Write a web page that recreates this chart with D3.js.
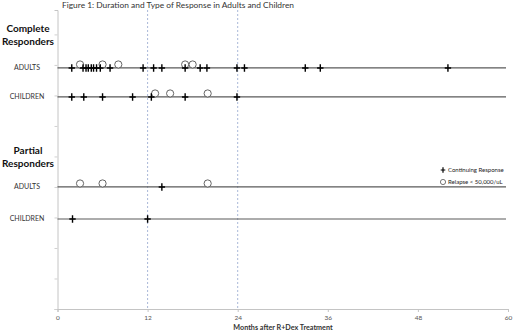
<!DOCTYPE html>
<html>
<head>
<meta charset="utf-8">
<script src="https://cdn.jsdelivr.net/npm/d3@7"></script>
<style>
  body { margin: 0; background: #fff; }
  text { font-family: Lato, 'Open Sans', sans-serif; }
</style>
</head>
<body>
<div id="chart"></div>
<script>
// data (months after treatment)
var monthTicks = [0, 12, 24, 36, 48, 60];
var guideMonths = [12, 24];
var groups = ['Complete', 'Partial'];
var groupLevel = [8.95, 4.95];
var rowNames = ['ADULTS', 'CHILDREN', 'ADULTS', 'CHILDREN'];
var rowLevel = [7.9, 6.95, 4.0, 2.95];
var continuing = [
    [1.9, 3.4, 3.8, 4.1, 4.5, 4.8, 5.2, 5.7, 7.0, 11.4, 12.8, 13.9, 17.0, 19.0, 19.9, 23.9, 24.9, 33.0, 35.0, 52.0],
    [1.9, 3.5, 6.0, 10.0, 12.5, 17.0, 23.9],
    [13.9],
    [2.0, 12.0]
];
var relapse = [
    [3.0, 6.0, 8.1, 17.0, 18.0],
    [13.0, 15.0, 20.0],
    [3.0, 6.0, 20.0],
    []
];
var legendItems = ['Continuing Response', 'Relapse < 50,000/uL'];

var W = 520, H = 332;
var margin = { top: 10, left: 57.5, bottom: 23, right: 12 };

var svg = d3.select('#chart').append('svg')
    .attr('width', W)
    .attr('height', H);

var x = d3.scaleLinear().domain([0, 60]).range([margin.left, W - margin.right]);
var y = d3.scaleLinear().domain([0, 9.8]).range([H - margin.bottom, margin.top]);

// title
svg.append('text')
    .attr('x', 62).attr('y', 8)
    .attr('font-size', 8.4)
    .attr('fill', '#333')
    .text('Figure 1: Duration and Type of Response in Adults and Children');

// dotted guides at 12 and 24 months
svg.selectAll('.guide')
    .data(guideMonths)
    .enter().append('line')
    .attr('class', 'guide')
    .attr('x1', d => x(d)).attr('x2', d => x(d))
    .attr('y1', y(9.8)).attr('y2', y(0))
    .attr('stroke', '#a9b8d8')
    .attr('stroke-dasharray', '2,2');

// left axis
var yAxis = d3.axisLeft(y).tickValues(d3.range(0, 10)).tickSize(3).tickFormat('');
var gy = svg.append('g')
    .attr('transform', 'translate(' + x(0) + ',0)')
    .call(yAxis);
gy.select('.domain').attr('stroke', '#c4c4c4');
gy.selectAll('.tick line').attr('stroke', '#d0d0d0');

// bottom axis
var xAxis = d3.axisBottom(x).tickValues(monthTicks).tickSize(3).tickPadding(3);
var gx = svg.append('g')
    .attr('transform', 'translate(0,' + y(0) + ')')
    .call(xAxis);
gx.select('.domain').attr('stroke', '#c4c4c4');
gx.selectAll('.tick line').attr('stroke', '#c4c4c4');
gx.selectAll('.tick text')
    .attr('font-size', 6.5)
    .attr('fill', '#555')
    .style('font-family', 'Lato, sans-serif');

svg.append('text')
    .attr('x', 283).attr('y', 330)
    .attr('text-anchor', 'middle')
    .attr('font-size', 7.2)
    .attr('font-weight', 'bold')
    .attr('fill', '#333')
    .text('Months after R+Dex Treatment');

// group headings
groups.forEach(function (g, i) {
    var t = svg.append('text')
        .attr('text-anchor', 'middle')
        .attr('font-size', 10)
        .attr('font-weight', 'bold')
        .attr('fill', '#111');
    t.append('tspan').attr('x', 28).attr('y', y(groupLevel[i]) - 4).text(g);
    t.append('tspan').attr('x', 28).attr('y', y(groupLevel[i]) + 9).text('Responders');
});

// rows
var plus = function (s) {
    return 'M' + (-s) + ',0H' + s + 'M0,' + (-s - 0.5) + 'V' + (s + 0.5);
};

rowNames.forEach(function (name, i) {
    var ry = y(rowLevel[i]);
    svg.append('text')
        .attr('x', 27).attr('y', ry + 2.5)
        .attr('text-anchor', 'middle')
        .attr('font-size', 7)
        .attr('fill', '#333')
        .text(name);

    svg.append('line')
        .attr('x1', x(0)).attr('x2', x(60) - 2)
        .attr('y1', ry).attr('y2', ry)
        .attr('stroke', '#5a5a5a')
        .attr('stroke-width', 1.2);

    svg.selectAll('.rel' + i)
        .data(relapse[i])
        .enter().append('circle')
        .attr('class', 'rel' + i)
        .attr('cx', d => x(d))
        .attr('cy', ry - 3.5)
        .attr('r', 3.6)
        .attr('fill', '#fff')
        .attr('stroke', '#555')
        .attr('stroke-width', 0.9);

    svg.selectAll('.cont' + i)
        .data(continuing[i])
        .enter().append('path')
        .attr('class', 'cont' + i)
        .attr('transform', d => 'translate(' + x(d) + ',' + ry + ')')
        .attr('d', plus(3.2))
        .attr('stroke', '#000')
        .attr('stroke-width', 1.4)
        .attr('fill', 'none');
});

// legend
var leg = svg.append('g').attr('transform', 'translate(443,170)');
leg.append('path')
    .attr('d', plus(2.3))
    .attr('stroke', '#000').attr('stroke-width', 1.2);
leg.append('circle')
    .attr('cy', 12).attr('r', 2.6)
    .attr('fill', '#fff').attr('stroke', '#555').attr('stroke-width', 0.8);
leg.selectAll('.lt')
    .data(legendItems)
    .enter().append('text')
    .attr('class', 'lt')
    .attr('x', 5).attr('y', (d, i) => i * 12 + 2)
    .attr('font-size', 6)
    .attr('fill', '#222')
    .text(d => d);
</script>
</body>
</html>
